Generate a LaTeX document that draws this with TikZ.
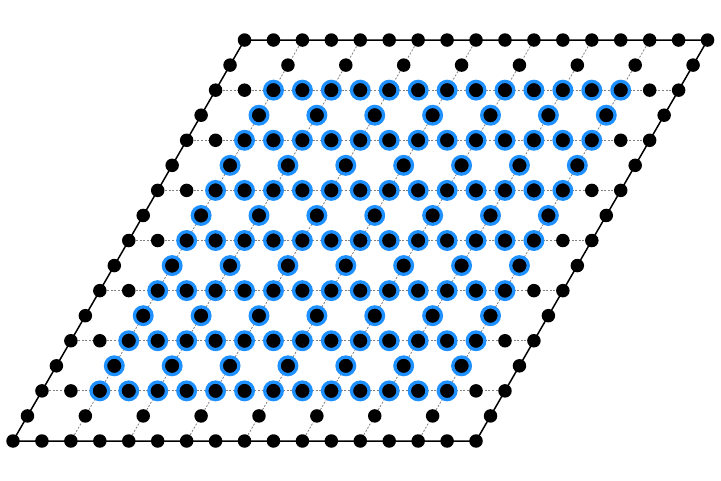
\documentclass[tikz,border=0pt]{standalone}
\usepackage{tikz}
\definecolor{ringblue}{RGB}{30,144,255}

\begin{document}
\begin{tikzpicture}[x=1pt,y=1pt,
    site/.style={circle,fill=black,inner sep=0pt,minimum size=13.5pt},
    bluesite/.style={circle,fill=black,draw=ringblue,line width=3.3pt,inner sep=0pt,minimum size=17.6pt},
    gridline/.style={gray,dash pattern=on 2pt off 1.6pt,line width=0.8pt},
    edgeline/.style={black,line width=1.5pt}]
    \useasboundingbox (0,0) rectangle (721,480);

    % lattice points
    \foreach \j in {0,...,16}{
      \foreach \i in {0,...,16}{
        \coordinate (p-\i-\j) at ({13+28.94*\i+14.47*\j},{39+25.06*\j});
      }
    }

    % dotted lines inside
    \foreach \k in {2,4,...,14}{
      \draw[gridline] (p-0-\k) -- (p-16-\k);
      \draw[gridline] (p-\k-0) -- (p-\k-16);
    }
    % border
    \draw[edgeline] (p-0-0) -- (p-16-0) -- (p-16-16) -- (p-0-16) -- cycle;

    % sites
    \foreach \j in {0,...,16}{
      \foreach \i in {0,...,16}{
        \pgfmathtruncatemacro{\gap}{mod(\i,2)*mod(\j,2)}
        \pgfmathtruncatemacro{\inside}{(\i>1)*(\i<15)*(\j>1)*(\j<15)}
        \ifnum\gap=0
          \ifnum\inside=1
            \node[bluesite] (s-\i-\j) at (p-\i-\j) {};
          \else
            \node[site] (s-\i-\j) at (p-\i-\j) {};
          \fi
        \fi
      }
    }
\end{tikzpicture}
\end{document}
